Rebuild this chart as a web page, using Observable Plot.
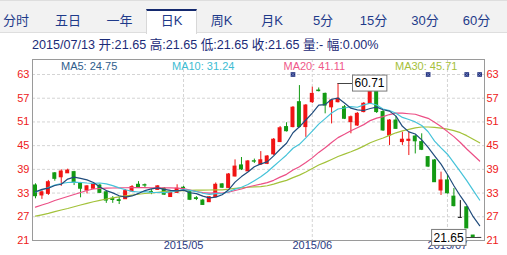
<!DOCTYPE html>
<html><head><meta charset="utf-8">
<script src="https://cdn.jsdelivr.net/npm/d3@7"></script>
<script src="https://cdn.jsdelivr.net/npm/@observablehq/plot@0.6"></script>
<style>
body{margin:0;background:#fff;font-family:Arial,"Liberation Sans","Noto Sans CJK SC",sans-serif;}
#wrap{position:relative;width:507px;height:255px;overflow:hidden;background:#fff}
#tabs{position:absolute;left:0;top:0;width:507px;height:33px;background:#f2f2f2;border-top:1px solid #dedede;border-bottom:1px solid #dedede;box-sizing:border-box}
.tab{position:absolute;top:8px;height:25px;width:51px;text-align:center;line-height:24px;font-size:13px;color:#1e3a8a;box-sizing:border-box}
.tab.sel{background:#fff;border-top:2px solid #14296e;border-left:1px solid #d8d8d8;border-right:1px solid #d8d8d8;line-height:20px}
#info{position:absolute;left:32px;top:38px;font-size:12.6px;line-height:14px;color:#1b2b78;white-space:nowrap}
#chart{position:absolute;left:0;top:55px}
.leg{position:absolute;top:60px;font-size:11px;line-height:12px;white-space:nowrap}
</style></head>
<body>
<div id="wrap">
  <div id="tabs"></div>
  <div id="info"></div>
  <div id="chart"></div>
  <div id="legend"></div>
</div>
<script>
// ---- data ----
const tabLabels = ["分时","五日","一年","日K","周K","月K","5分","15分","30分","60分"];
const selectedTab = "日K";
const infoText = "2015/07/13 开:21.65 高:21.65 低:21.65 收:21.65 量:- 幅:0.00%";

const open  = [34.92,32.4,32.8,38.0,37.0,38.0,38.3,35.35,33.65,34.1,
  34.9,33.2,31.55,31.2,31.45,33.4,35.1,35.0,33.3,33.8,
  34.1,32.0,33.05,34.35,33.2,31.7,31.1,30.7,31.95,35.2,
  34.3,37.2,40.0,38.5,41.05,40.2,40.4,42.8,45.9,49.7,
  49.7,56.0,49.7,56.0,58.95,58.1,54.7,56.0,54.7,50.95,
  50.1,53.5,55.6,59.4,53.5,47.55,51.35,45.9,46.2,47.3,
  45.9,42.1,41.25,33.65,36.2,32.1,26.73,29.4,22.25,21.65];
const high  = [35.35,33.65,36.2,38.2,38.9,39.05,38.5,35.7,34.9,35.4,
  35.2,33.65,32.1,31.95,33.9,34.9,35.9,35.3,33.9,34.9,
  34.4,33.65,35.1,34.7,33.65,32.1,31.4,32.1,35.55,35.4,
  37.95,41.4,42.0,41.25,41.6,43.5,42.5,46.8,49.85,50.8,
  54.9,60.2,55.4,59.8,59.6,58.3,56.7,60.71,55.15,52.5,
  53.4,55.9,60.3,59.7,53.9,51.6,52.4,48.4,48.4,47.55,
  48.0,42.25,41.5,38.3,37.45,34.15,31.1,29.6,22.3,21.65];
const low   = [31.55,31.4,32.4,36.0,34.7,37.95,34.9,31.8,32.8,33.9,
  32.9,30.4,30.4,30.1,31.4,33.15,34.15,34.15,32.6,33.65,
  32.4,31.9,32.9,33.65,31.1,31.1,29.85,30.6,31.9,34.15,
  34.15,37.05,38.7,38.45,40.5,40.0,40.2,42.5,45.8,48.45,
  49.5,49.5,47.1,55.65,58.6,53.05,50.5,55.8,51.6,48.0,
  49.85,53.3,55.4,53.15,48.6,45.05,49.1,45.05,42.5,42.9,
  43.75,39.45,35.7,32.4,32.75,29.5,26.73,24.06,21.65,21.65];
const close = [32.21,33.2,35.75,36.6,38.45,38.7,35.75,34.1,34.7,35.2,
  33.05,31.1,31.25,31.0,33.5,34.5,34.3,34.9,33.1,34.7,
  32.6,33.2,34.1,34.2,31.3,31.5,30.0,31.95,35.1,34.35,
  37.7,39.7,39.0,41.0,40.95,41.3,42.25,46.5,49.4,48.65,
  54.6,49.7,55.15,58.1,58.8,55.15,56.4,56.85,51.8,52.2,
  53.05,55.6,59.4,53.5,48.85,51.35,49.25,46.5,46.5,46.1,
  43.95,39.7,35.75,36.2,32.95,29.7,26.73,24.06,21.65,21.65];

const ma5  = [33.33,33.95,34.23,34.92,35.24,36.54,37.05,36.72,36.34,35.69,
  34.56,33.63,33.06,32.32,31.98,32.27,32.91,33.64,34.06,34.30,
  33.92,33.70,33.54,33.76,33.08,32.86,32.22,31.79,31.97,32.58,
  33.82,35.76,37.17,38.35,39.67,40.39,40.90,42.40,44.08,45.62,
  48.28,49.77,51.50,53.24,55.27,55.38,56.72,57.06,55.80,54.48,
  54.06,53.90,54.41,54.75,54.08,53.74,52.47,49.89,48.49,47.94,
  46.46,44.55,42.40,40.34,37.71,34.86,32.27,29.93,27.02,24.75];
const ma10 = [33.27,33.78,34.41,35.04,35.42,35.68,35.75,35.68,35.55,35.47,
  35.55,35.34,34.89,34.33,33.84,33.42,33.27,33.35,33.19,33.14,
  33.10,33.31,33.59,33.91,33.69,33.39,32.96,32.67,32.87,32.83,
  33.34,33.99,34.48,35.16,36.13,37.11,38.33,39.79,41.22,42.65,
  44.34,45.34,46.95,48.66,50.45,51.83,53.25,54.28,54.52,54.88,
  54.72,55.31,55.74,55.28,54.28,53.90,53.19,52.15,51.62,51.01,
  50.10,48.51,46.15,44.42,42.83,40.66,38.41,36.16,33.68,31.24];
const ma20 = [29.43,29.98,30.49,31.12,31.63,32.13,32.64,33.15,33.65,34.03,
  34.16,34.23,34.28,34.30,34.35,34.38,34.40,34.38,34.33,34.30,
  34.32,34.32,34.24,34.12,33.76,33.40,33.12,33.01,33.03,32.99,
  33.22,33.65,34.04,34.54,34.91,35.25,35.65,36.23,37.04,37.74,
  38.84,39.66,40.72,41.91,43.29,44.47,45.79,47.03,47.87,48.76,
  49.53,50.32,51.34,51.97,52.36,52.87,53.22,53.22,53.07,52.94,
  52.41,51.91,50.94,49.85,48.55,47.28,45.80,44.16,42.65,41.11];
const ma30 = [27.15,27.5,27.85,28.3,28.72,29.1,29.55,29.98,30.4,30.8,
  31.15,31.5,31.8,32.05,32.31,32.5,32.7,32.89,33.05,33.2,
  33.35,33.5,33.58,33.64,33.7,33.73,33.76,33.78,33.8,33.81,
  33.99,34.21,34.32,34.47,34.55,34.64,34.85,35.27,35.76,36.21,
  36.92,37.54,38.34,39.24,40.09,40.78,41.51,42.24,42.87,43.45,
  44.13,44.88,45.72,46.37,46.95,47.61,48.25,48.74,49.12,49.51,
  49.72,49.72,49.61,49.45,49.18,48.80,48.28,47.53,46.61,45.71];

const maNames  = ["MA5","MA10","MA20","MA30"];
const maLast   = ["24.75","31.24","41.11","45.71"];
const yTicks   = [21,27,33,39,45,51,57,63];
const monthIdx = [24,44,65];
const monthLabels = ["2015/05","2015/06","2015/07"];
const eventIdx = [41,62,68,70];
const markHigh = {i:48, v:60.71};
const markLow  = {i:70, v:21.65};

// ---- styles ----
const RED = "#f01414", GREEN = "#139a13", DOJI = "#111";
const maColors = ["#204c7c","#45c3d9","#ec4f86","#a3c23a"];
const maTextColors = ["#2f5d8c","#3dbcd3","#ef5889","#a6bf3a"];
const tabCenters = [16,68,119.5,171.5,221.5,272,323,373.5,425,476.5];

// tabs
const tabs = document.getElementById("tabs");
tabLabels.forEach((t,k)=>{
  const d = document.createElement("div");
  d.className = "tab" + (t===selectedTab ? " sel" : "");
  d.style.left = (tabCenters[k]-25.5) + "px";
  d.textContent = t;
  tabs.appendChild(d);
});
document.getElementById("info").textContent = infoText;

// legend
const legLeft = [61,172,283.5,395];
const legend = document.getElementById("legend");
maNames.forEach((n,k)=>{
  const s = document.createElement("span");
  s.className = "leg";
  s.style.left = legLeft[k] + "px";
  s.style.color = maTextColors[k];
  s.textContent = n + ": " + maLast[k];
  legend.appendChild(s);
});

const rows = open.map((o,k)=>({i:k+1, o, h:high[k], l:low[k], c:close[k]}));
const col = r => r.c > r.o ? RED : (r.c < r.o ? GREEN : DOJI);
const maSeries = [ma5,ma10,ma20,ma30];

const xDomain = [0.534, 70.755];
const yDomain = [21, 66.8];

const bowtie = {draw(ctx, size){ const r = Math.sqrt(size)/2; ctx.moveTo(-r,-r); ctx.lineTo(r,-r); ctx.lineTo(r,r); ctx.lineTo(-r,r); ctx.closePath(); }};

const plot = Plot.plot({
  width:507, height:200,
  marginTop:4, marginBottom:15, marginLeft:32, marginRight:23,
  x:{domain:xDomain, axis:null},
  y:{domain:yDomain, axis:null},
  style:{fontFamily:"Arial, 'Liberation Sans', sans-serif", fontSize:"11px", background:"transparent", overflow:"visible"},
  marks:[
    Plot.ruleY(yTicks.filter(t=>t>21), {y:d=>d, stroke:"#d4d4d4", strokeDasharray:"3,2"}),
    Plot.ruleX(monthIdx, {x:d=>d, stroke:"#d4d4d4", strokeDasharray:"3,2"}),
    Plot.frame({stroke:"#9a9a9a"}),
    Plot.ruleX(rows, {x:"i", y1:"l", y2:"h", stroke:col, strokeWidth:1}),
    Plot.rect(rows, {x1:r=>r.i-0.31, x2:r=>r.i+0.31, y1:"o", y2:"c", fill:col, insetTop:-0.5, insetBottom:-0.5}),
    ...[3,2,1,0].map(k => Plot.line(maSeries[k], {x:(d,j)=>j+1, y:d=>d, stroke:maColors[k], strokeWidth:1.2, curve:"linear"})),
    Plot.dot(eventIdx, {x:d=>d, frameAnchor:"top", dy:15, symbol:bowtie, r:2.6, fill:"#1b2a78"}),
    Plot.dot(eventIdx, {x:d=>d, frameAnchor:"top", dy:15, symbol:"times", r:1.8, stroke:"#7f8fc6", strokeWidth:0.8}),
    Plot.text(yTicks, {y:d=>d, text:d=>String(d), frameAnchor:"left", textAnchor:"end", dx:-3, fill:"#ee2020", fontSize:11}),
    Plot.text(yTicks, {y:d=>d, text:d=>String(d), frameAnchor:"right", textAnchor:"start", dx:2, fill:"#ee2020", fontSize:11}),
    Plot.text(monthIdx, {x:d=>d, text:(d,j)=>monthLabels[j], frameAnchor:"bottom", dy:8, fill:"#2a3a82", fontSize:11}),
    Plot.text([markHigh], {x:"i", y:"v", text:d=>d.v.toFixed(2), dx:31.5, fill:"#000", fontSize:12, className:"mkhigh"}),
    Plot.text([markLow], {x:"i", y:"v", text:d=>d.v.toFixed(2), dx:-31, fill:"#000", fontSize:12, className:"mklow"})
  ]
});
document.getElementById("chart").appendChild(plot);

// marker boxes and connectors
(function(){
  const svg = plot.tagName.toLowerCase()==="svg" ? plot : plot.querySelector("svg");
  let sx, sy;
  try { sx = plot.scale("x"); sy = plot.scale("y"); } catch(e) {}
  const fx = v => (sx && sx.apply) ? sx.apply(v) : d3.scaleLinear(xDomain,[32,484])(v);
  const fy = v => (sy && sy.apply) ? sy.apply(v) : d3.scaleLinear(yDomain,[240-55,4])(v);
  const base = svg.getBoundingClientRect();
  const ns = "http://www.w3.org/2000/svg";
  [["mkhigh", markHigh, 1], ["mklow", markLow, -1]].forEach(([cls, m, dir])=>{
    const g = svg.querySelector("g." + cls);
    if(!g) return;
    const t = g.querySelector("text");
    const b = t.getBoundingClientRect();
    const bx = b.left - base.left - 2, bw = b.width + 4;
    const cy = fy(m.v);
    const bh = 16, by = cy - bh/2;
    const rect = document.createElementNS(ns, "rect");
    rect.setAttribute("x", bx); rect.setAttribute("y", by);
    rect.setAttribute("width", bw); rect.setAttribute("height", bh);
    rect.setAttribute("fill", "#fff"); rect.setAttribute("stroke", "#7a7a7a");
    const line = document.createElementNS(ns, "line");
    const px = fx(m.i);
    const edge = dir > 0 ? bx : bx + bw;
    line.setAttribute("x1", dir > 0 ? px : px + 2); line.setAttribute("x2", edge);
    line.setAttribute("y1", Math.round(cy)+0.5); line.setAttribute("y2", Math.round(cy)+0.5);
    line.setAttribute("stroke", "#444");
    svg.appendChild(line);
    svg.appendChild(rect);
    svg.appendChild(g);
  });
})();
</script>
</body></html>
